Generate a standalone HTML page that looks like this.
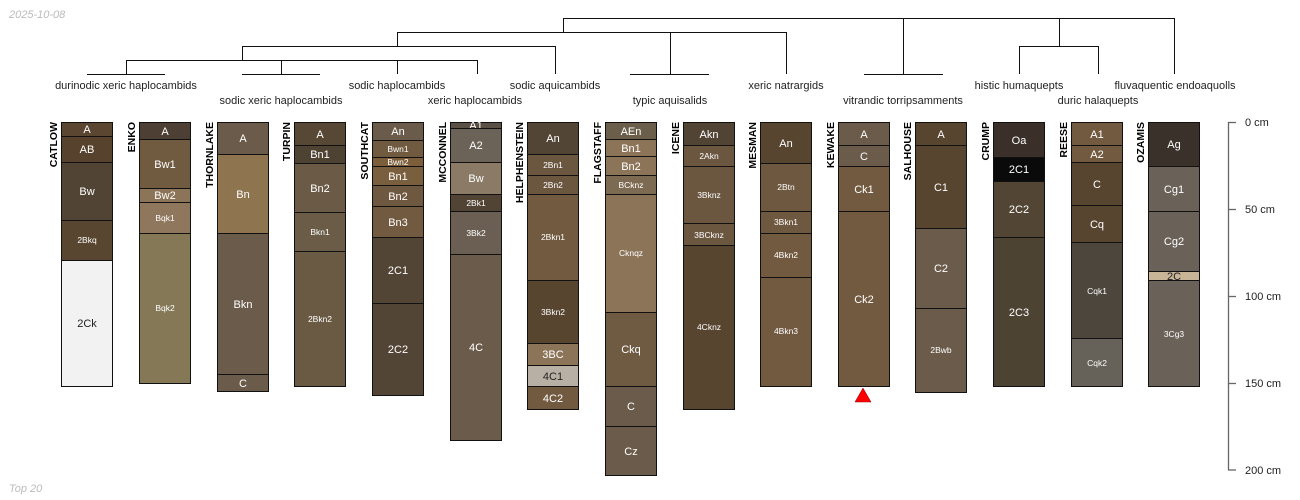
<!DOCTYPE html>
<html><head><meta charset="utf-8"><style>
html,body{margin:0;padding:0;background:#fff;}
svg{display:block;font-family:"Liberation Sans",sans-serif;}
.h text{font-size:11px;fill:#fff;text-anchor:middle;}
text.s{font-size:8.5px;}
text.d{fill:#222;}
.h rect{stroke:#111;stroke-width:1;}
.n{font-size:10.5px;font-weight:bold;fill:#000;}
.lab{font-size:11px;fill:#222;text-anchor:middle;}
.dg line{stroke:#111;stroke-width:1;}
</style></head><body>
<svg width="1300" height="500" viewBox="0 0 1300 500" xmlns="http://www.w3.org/2000/svg">
<rect width="1300" height="500" fill="#fff"/>
<text x="9" y="18" font-size="11" font-style="italic" fill="#bbb">2025-10-08</text>
<text x="9" y="492" font-size="11" font-style="italic" fill="#bbb">Top 20</text>

<g class="dg">
<line x1="563" y1="18.5" x2="1175" y2="18.5"/>
<line x1="563.5" y1="18" x2="563.5" y2="32"/>
<line x1="397" y1="32.5" x2="786" y2="32.5"/>
<line x1="397.5" y1="32" x2="397.5" y2="46"/>
<line x1="242" y1="46.5" x2="555" y2="46.5"/>
<line x1="242.5" y1="46" x2="242.5" y2="60"/>
<line x1="126" y1="60.5" x2="477" y2="60.5"/>
<line x1="126.5" y1="60" x2="126.5" y2="74"/>
<line x1="281.5" y1="60" x2="281.5" y2="74"/>
<line x1="397.5" y1="60" x2="397.5" y2="74"/>
<line x1="477.5" y1="60" x2="477.5" y2="74"/>
<line x1="555.5" y1="46" x2="555.5" y2="74"/>
<line x1="87" y1="74.5" x2="165" y2="74.5"/>
<line x1="242" y1="74.5" x2="320" y2="74.5"/>
<line x1="670.5" y1="32" x2="670.5" y2="74"/>
<line x1="630" y1="74.5" x2="709" y2="74.5"/>
<line x1="786.5" y1="32" x2="786.5" y2="74"/>
<line x1="903.5" y1="18" x2="903.5" y2="74"/>
<line x1="864" y1="74.5" x2="943" y2="74.5"/>
<line x1="1059.5" y1="18" x2="1059.5" y2="46"/>
<line x1="1019" y1="46.5" x2="1098" y2="46.5"/>
<line x1="1019.5" y1="46" x2="1019.5" y2="74"/>
<line x1="1098.5" y1="46" x2="1098.5" y2="74"/>
<line x1="1174.5" y1="18" x2="1174.5" y2="74"/>
</g>
<g>
<text class="lab" x="126" y="89">durinodic xeric haplocambids</text>
<text class="lab" x="397" y="89">sodic haplocambids</text>
<text class="lab" x="555" y="89">sodic aquicambids</text>
<text class="lab" x="786" y="89">xeric natrargids</text>
<text class="lab" x="1019" y="89">histic humaquepts</text>
<text class="lab" x="1175" y="89">fluvaquentic endoaquolls</text>
<text class="lab" x="281" y="104">sodic xeric haplocambids</text>
<text class="lab" x="475" y="104">xeric haplocambids</text>
<text class="lab" x="670" y="104">typic aquisalids</text>
<text class="lab" x="903" y="104">vitrandic torripsamments</text>
<text class="lab" x="1098" y="104">duric halaquepts</text>
</g>

<g class="n">
<text transform="translate(57,122) rotate(-90)" text-anchor="end">CATLOW</text>
<text transform="translate(135,122) rotate(-90)" text-anchor="end">ENKO</text>
<text transform="translate(213,122) rotate(-90)" text-anchor="end">THORNLAKE</text>
<text transform="translate(290,122) rotate(-90)" text-anchor="end">TURPIN</text>
<text transform="translate(368,122) rotate(-90)" text-anchor="end">SOUTHCAT</text>
<text transform="translate(446,122) rotate(-90)" text-anchor="end">MCCONNEL</text>
<text transform="translate(523,122) rotate(-90)" text-anchor="end">HELPHENSTEIN</text>
<text transform="translate(601,122) rotate(-90)" text-anchor="end">FLAGSTAFF</text>
<text transform="translate(679,122) rotate(-90)" text-anchor="end">ICENE</text>
<text transform="translate(756,122) rotate(-90)" text-anchor="end">MESMAN</text>
<text transform="translate(834,122) rotate(-90)" text-anchor="end">KEWAKE</text>
<text transform="translate(911,122) rotate(-90)" text-anchor="end">SALHOUSE</text>
<text transform="translate(989,122) rotate(-90)" text-anchor="end">CRUMP</text>
<text transform="translate(1067,122) rotate(-90)" text-anchor="end">REESE</text>
<text transform="translate(1144,122) rotate(-90)" text-anchor="end">OZAMIS</text>
</g>

<g class="h">
<rect x="61.5" y="122.5" width="51" height="14" fill="#5b4731"/><text x="87" y="133">A</text>
<rect x="61.5" y="136.5" width="51" height="26" fill="#57432d"/><text x="87" y="153">AB</text>
<rect x="61.5" y="162.5" width="51" height="58" fill="#524434"/><text x="87" y="195">Bw</text>
<rect x="61.5" y="220.5" width="51" height="40" fill="#584630"/><text class="s" x="87" y="243">2Bkq</text>
<rect x="61.5" y="260.5" width="51" height="126" fill="#f2f2f2"/><text class="d" x="87" y="327">2Ck</text>
<rect x="139.5" y="122.5" width="51" height="17" fill="#4d3f33"/><text x="165" y="135">A</text>
<rect x="139.5" y="139.5" width="51" height="49" fill="#705a40"/><text x="165" y="168">Bw1</text>
<rect x="139.5" y="188.5" width="51" height="14" fill="#8c7458"/><text x="165" y="199">Bw2</text>
<rect x="139.5" y="202.5" width="51" height="31" fill="#8e775c"/><text class="s" x="165" y="221">Bqk1</text>
<rect x="139.5" y="233.5" width="51" height="150" fill="#857856"/><text class="s" x="165" y="311">Bqk2</text>
<rect x="217.5" y="122.5" width="51" height="32" fill="#6b5b4a"/><text x="243" y="142">A</text>
<rect x="217.5" y="154.5" width="51" height="79" fill="#8f7450"/><text x="243" y="198">Bn</text>
<rect x="217.5" y="233.5" width="51" height="141" fill="#6b5b4a"/><text x="243" y="308">Bkn</text>
<rect x="217.5" y="374.5" width="51" height="17" fill="#6b5b4a"/><text x="243" y="387">C</text>
<rect x="294.5" y="122.5" width="51" height="23" fill="#574836"/><text x="320" y="138">A</text>
<rect x="294.5" y="145.5" width="51" height="18" fill="#4e4333"/><text x="320" y="158">Bn1</text>
<rect x="294.5" y="163.5" width="51" height="49" fill="#6b5b46"/><text x="320" y="192">Bn2</text>
<rect x="294.5" y="212.5" width="51" height="39" fill="#6a5c47"/><text class="s" x="320" y="235">Bkn1</text>
<rect x="294.5" y="251.5" width="51" height="135" fill="#6a5a44"/><text class="s" x="320" y="322">2Bkn2</text>
<rect x="372.5" y="122.5" width="51" height="18" fill="#6b5b4a"/><text x="398" y="135">An</text>
<rect x="372.5" y="140.5" width="51" height="17" fill="#705a40"/><text class="s" x="398" y="152">Bwn1</text>
<rect x="372.5" y="157.5" width="51" height="9" fill="#7c5f3a"/><text class="s" x="398" y="165">Bwn2</text>
<rect x="372.5" y="166.5" width="51" height="19" fill="#7a5f3e"/><text x="398" y="180">Bn1</text>
<rect x="372.5" y="185.5" width="51" height="21" fill="#6e583f"/><text x="398" y="200">Bn2</text>
<rect x="372.5" y="206.5" width="51" height="31" fill="#725a40"/><text x="398" y="226">Bn3</text>
<rect x="372.5" y="237.5" width="51" height="66" fill="#534536"/><text x="398" y="274">2C1</text>
<rect x="372.5" y="303.5" width="51" height="92" fill="#534536"/><text x="398" y="353">2C2</text>
<rect x="450.5" y="122.5" width="51" height="6" fill="#5b5045"/><text x="476" y="129">A1</text>
<rect x="450.5" y="128.5" width="51" height="34" fill="#6b6258"/><text x="476" y="149">A2</text>
<rect x="450.5" y="162.5" width="51" height="32" fill="#8a7a66"/><text x="476" y="182">Bw</text>
<rect x="450.5" y="194.5" width="51" height="17" fill="#524434"/><text class="s" x="476" y="206">2Bk1</text>
<rect x="450.5" y="211.5" width="51" height="43" fill="#6a5f52"/><text class="s" x="476" y="236">3Bk2</text>
<rect x="450.5" y="254.5" width="51" height="186" fill="#6b5b4a"/><text x="476" y="351">4C</text>
<rect x="527.5" y="122.5" width="51" height="32" fill="#534535"/><text x="553" y="142">An</text>
<rect x="527.5" y="154.5" width="51" height="21" fill="#6b5640"/><text class="s" x="553" y="168">2Bn1</text>
<rect x="527.5" y="175.5" width="51" height="19" fill="#6b5640"/><text class="s" x="553" y="188">2Bn2</text>
<rect x="527.5" y="194.5" width="51" height="86" fill="#725a40"/><text class="s" x="553" y="240">2Bkn1</text>
<rect x="527.5" y="280.5" width="51" height="63" fill="#574530"/><text class="s" x="553" y="315">3Bkn2</text>
<rect x="527.5" y="343.5" width="51" height="22" fill="#8c7458"/><text x="553" y="358">3BC</text>
<rect x="527.5" y="365.5" width="51" height="21" fill="#b9b0a5"/><text class="d" x="553" y="380">4C1</text>
<rect x="527.5" y="386.5" width="51" height="23" fill="#725a40"/><text x="553" y="402">4C2</text>
<rect x="605.5" y="122.5" width="51" height="17" fill="#6b5f4c"/><text x="631" y="135">AEn</text>
<rect x="605.5" y="139.5" width="51" height="17" fill="#8c7458"/><text x="631" y="152">Bn1</text>
<rect x="605.5" y="156.5" width="51" height="19" fill="#8c7458"/><text x="631" y="170">Bn2</text>
<rect x="605.5" y="175.5" width="51" height="19" fill="#7d6a52"/><text class="s" x="631" y="188">BCknz</text>
<rect x="605.5" y="194.5" width="51" height="118" fill="#8c7458"/><text class="s" x="631" y="256">Cknqz</text>
<rect x="605.5" y="312.5" width="51" height="74" fill="#6e5b42"/><text x="631" y="353">Ckq</text>
<rect x="605.5" y="386.5" width="51" height="40" fill="#6b5b4a"/><text x="631" y="410">C</text>
<rect x="605.5" y="426.5" width="51" height="49" fill="#6b5b4a"/><text x="631" y="455">Cz</text>
<rect x="683.5" y="122.5" width="51" height="23" fill="#524434"/><text x="709" y="138">Akn</text>
<rect x="683.5" y="145.5" width="51" height="21" fill="#6b5640"/><text class="s" x="709" y="159">2Akn</text>
<rect x="683.5" y="166.5" width="51" height="57" fill="#6b5640"/><text class="s" x="709" y="198">3Bknz</text>
<rect x="683.5" y="223.5" width="51" height="22" fill="#6b5640"/><text class="s" x="709" y="238">3BCknz</text>
<rect x="683.5" y="245.5" width="51" height="164" fill="#574530"/><text class="s" x="709" y="330">4Cknz</text>
<rect x="760.5" y="122.5" width="51" height="41" fill="#574530"/><text x="786" y="147">An</text>
<rect x="760.5" y="163.5" width="51" height="48" fill="#6e583f"/><text class="s" x="786" y="190">2Btn</text>
<rect x="760.5" y="211.5" width="51" height="22" fill="#6e583f"/><text class="s" x="786" y="225">3Bkn1</text>
<rect x="760.5" y="233.5" width="51" height="44" fill="#725a40"/><text class="s" x="786" y="258">4Bkn2</text>
<rect x="760.5" y="277.5" width="51" height="109" fill="#725a40"/><text class="s" x="786" y="334">4Bkn3</text>
<rect x="838.5" y="122.5" width="51" height="23" fill="#6b5b4a"/><text x="864" y="138">A</text>
<rect x="838.5" y="145.5" width="51" height="21" fill="#6b5b4a"/><text x="864" y="160">C</text>
<rect x="838.5" y="166.5" width="51" height="45" fill="#725a40"/><text x="864" y="193">Ck1</text>
<rect x="838.5" y="211.5" width="51" height="175" fill="#725a40"/><text x="864" y="303">Ck2</text>
<rect x="915.5" y="122.5" width="51" height="23" fill="#574530"/><text x="941" y="138">A</text>
<rect x="915.5" y="145.5" width="51" height="83" fill="#574530"/><text x="941" y="191">C1</text>
<rect x="915.5" y="228.5" width="51" height="80" fill="#6b5b4a"/><text x="941" y="272">C2</text>
<rect x="915.5" y="308.5" width="51" height="84" fill="#6b5b4a"/><text class="s" x="941" y="353">2Bwb</text>
<rect x="993.5" y="122.5" width="51" height="35" fill="#3a3029"/><text x="1019" y="144">Oa</text>
<rect x="993.5" y="157.5" width="51" height="24" fill="#0a0a0a"/><text x="1019" y="173">2C1</text>
<rect x="993.5" y="181.5" width="51" height="56" fill="#524534"/><text x="1019" y="213">2C2</text>
<rect x="993.5" y="237.5" width="51" height="149" fill="#4d4333"/><text x="1019" y="316">2C3</text>
<rect x="1071.5" y="122.5" width="51" height="23" fill="#725a40"/><text x="1097" y="138">A1</text>
<rect x="1071.5" y="145.5" width="51" height="17" fill="#725a40"/><text x="1097" y="158">A2</text>
<rect x="1071.5" y="162.5" width="51" height="43" fill="#574530"/><text x="1097" y="188">C</text>
<rect x="1071.5" y="205.5" width="51" height="37" fill="#574530"/><text x="1097" y="228">Cq</text>
<rect x="1071.5" y="242.5" width="51" height="96" fill="#4d463d"/><text class="s" x="1097" y="294">Cqk1</text>
<rect x="1071.5" y="338.5" width="51" height="48" fill="#66625a"/><text class="s" x="1097" y="366">Cqk2</text>
<rect x="1148.5" y="122.5" width="51" height="44" fill="#3a312b"/><text x="1174" y="148">Ag</text>
<rect x="1148.5" y="166.5" width="51" height="45" fill="#6a6259"/><text x="1174" y="193">Cg1</text>
<rect x="1148.5" y="211.5" width="51" height="60" fill="#6a6259"/><text x="1174" y="245">Cg2</text>
<rect x="1148.5" y="271.5" width="51" height="9" fill="#c8b496"/><text class="d" x="1174" y="280">2C</text>
<rect x="1148.5" y="280.5" width="51" height="106" fill="#6a6259"/><text class="s" x="1174" y="337">3Cg3</text>
</g>
<polygon points="863,388 871,402 855,402" fill="#f00" stroke="#800" stroke-width="0.5"/>

<g stroke="#666" stroke-width="1.3">
<line x1="1228.5" y1="122" x2="1228.5" y2="470"/>
<line x1="1228" y1="122.5" x2="1236" y2="122.5"/>
<line x1="1228" y1="209.5" x2="1236" y2="209.5"/>
<line x1="1228" y1="296.5" x2="1236" y2="296.5"/>
<line x1="1228" y1="383.5" x2="1236" y2="383.5"/>
<line x1="1228" y1="470" x2="1236" y2="470"/>
</g>
<g font-size="11" fill="#222">
<text x="1245" y="126">0 cm</text>
<text x="1245" y="213">50 cm</text>
<text x="1245" y="300">100 cm</text>
<text x="1245" y="387">150 cm</text>
<text x="1245" y="474">200 cm</text>
</g>
</svg>
</body></html>
